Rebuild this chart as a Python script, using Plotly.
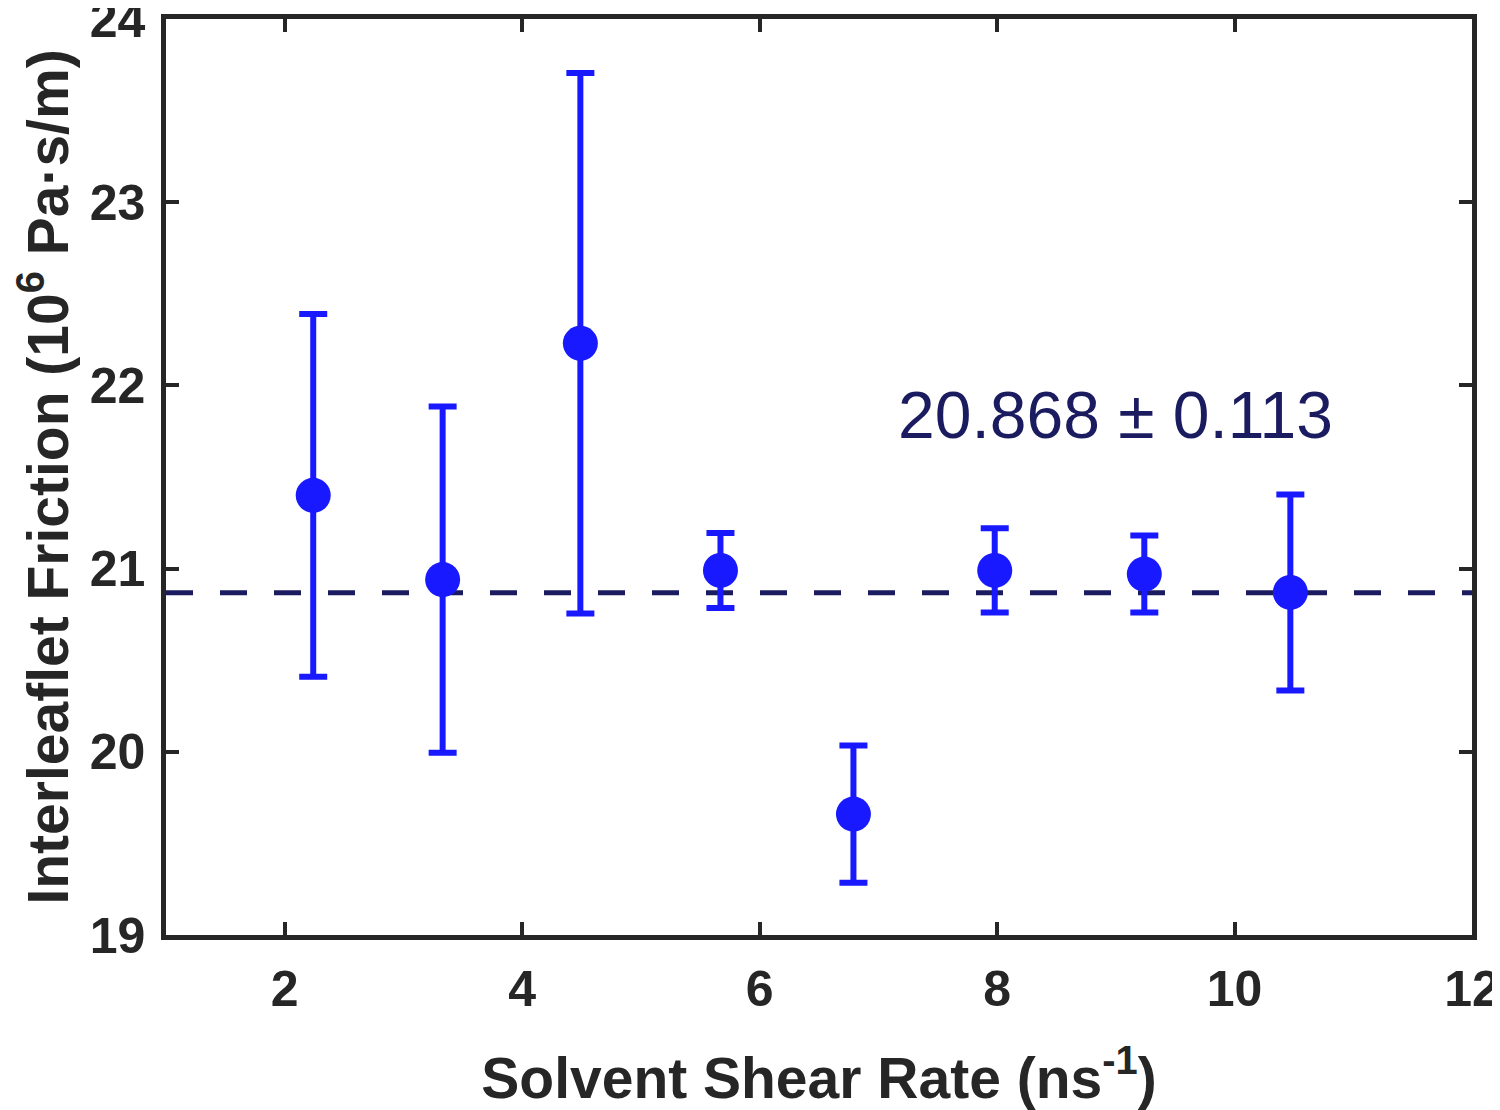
import plotly.graph_objects as go

# Data
shear_rate = [2.24, 3.33, 4.49, 5.67, 6.79, 7.98, 9.24, 10.47]
friction = [21.40, 20.94, 22.23, 20.99, 19.66, 20.99, 20.97, 20.87]
friction_err = [0.99, 0.945, 1.475, 0.205, 0.375, 0.23, 0.21, 0.535]
mean_value = 20.868
mean_err = 0.113
x_range = [1, 12]
y_range = [19, 24]
x_ticks = [2, 4, 6, 8, 10, 12]
y_ticks = [19, 20, 21, 22, 23, 24]

BLUE = "#1919ff"
NAVY = "#1b1b60"
AXIS = "#262626"
FONT = "Liberation Sans, Arial, sans-serif"

fig = go.Figure()

fig.add_trace(go.Scatter(
    x=x_range, y=[mean_value, mean_value], mode="lines",
    line=dict(color=NAVY, width=5, dash="27px,27px"),
    showlegend=False, hoverinfo="skip"))

fig.add_trace(go.Scatter(
    x=shear_rate, y=friction, mode="markers",
    marker=dict(color=BLUE, size=35, line=dict(width=0)),
    error_y=dict(type="data", array=friction_err, visible=True,
                 color=BLUE, thickness=6, width=14),
    showlegend=False))

fig.add_annotation(
    x=9.0, y=21.84, xref="x", yref="y",
    text=f"{mean_value:.3f} ± {mean_err:.3f}", showarrow=False,
    font=dict(family=FONT, size=66, color=NAVY),
    xanchor="center", yanchor="middle")

axis_common = dict(
    showline=True, linewidth=4.5, linecolor=AXIS, mirror="ticks",
    ticks="inside", ticklen=13, tickwidth=4, tickcolor=AXIS,
    showgrid=False, zeroline=False, ticklabeloverflow="allow",
    tickfont=dict(family=FONT, size=50, color=AXIS, weight="bold"),
)

fig.update_xaxes(
    range=x_range, tickvals=x_ticks, ticktext=[str(v) for v in x_ticks],
    title=dict(text="Solvent Shear Rate (ns<sup>-1</sup>)",
               font=dict(family=FONT, size=57, color=AXIS, weight="bold"),
               standoff=46),
    ticklabelstandoff=6,
    **axis_common)
fig.update_yaxes(
    range=y_range, tickvals=y_ticks, ticktext=[str(v) for v in y_ticks],
    title=dict(text="Interleaflet Friction (10<sup>6</sup> Pa·s/m)",
               font=dict(family=FONT, size=57, color=AXIS, weight="bold"),
               standoff=33),
    ticklabelstandoff=6,
    **axis_common)

fig.update_layout(
    width=1492, height=1102,
    margin=dict(l=158, r=28, t=11, b=175, autoexpand=False),
    paper_bgcolor="white", plot_bgcolor="white",
    font=dict(family=FONT),
)

fig.write_html("out.html")
